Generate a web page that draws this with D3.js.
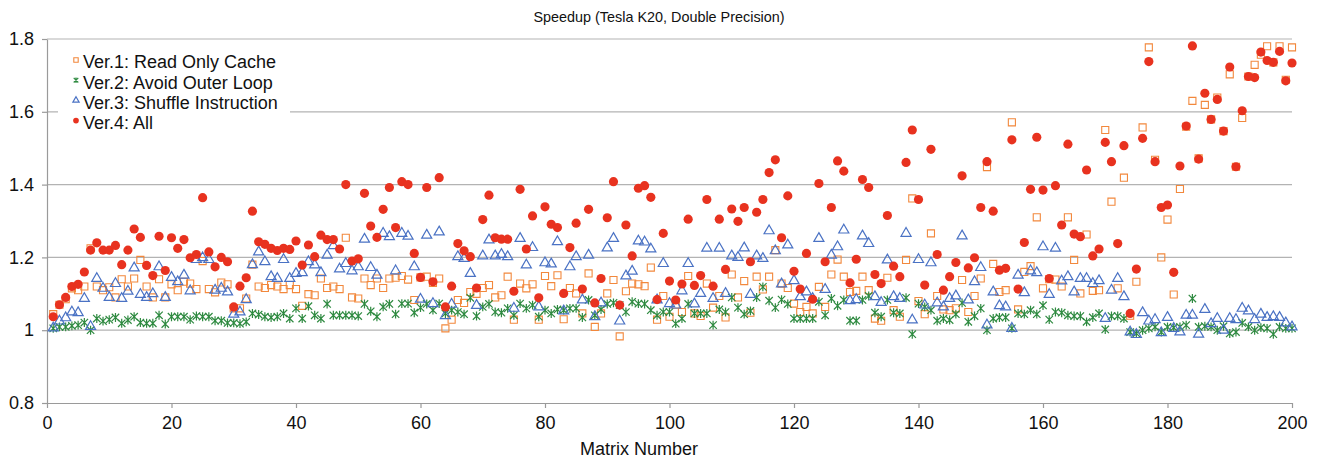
<!DOCTYPE html>
<html>
<head>
<meta charset="utf-8">
<script src="https://cdn.jsdelivr.net/npm/d3@7"></script>
<style>
	body { margin: 0; background: #fff; }
	text { font-family: "Liberation Sans", Arial, Helvetica, sans-serif; fill: #111; }
</style>
</head>
<body>
<div id="viz"></div>
<script>

//data, matrices 1..200
let ver1 = [1.044,1.07,1.085,1.115,1.11,1.12,1.225,1.12,1.11,1.118,1.09,1.14,1.12,1.142,1.193,1.12,1.09,1.14,1.09,1.126,
	1.11,1.133,1.128,1.113,1.19,1.113,1.104,1.131,1.126,1.06,1.06,1.087,1.18,1.12,1.116,1.124,1.12,1.113,1.124,1.113,
	1.067,1.099,1.096,1.142,1.116,1.12,1.113,1.254,1.09,1.087,1.142,1.124,1.142,1.116,1.142,1.144,1.149,1.139,1.083,1.145,
	1.147,1.13,1.142,1.005,1.029,1.083,1.075,1.105,1.10,1.116,1.124,1.09,1.096,1.147,1.029,1.128,1.115,1.126,1.029,1.149,
	1.121,1.151,1.03,1.116,1.101,1.046,1.156,1.009,1.046,1.101,1.138,0.983,1.107,1.128,1.126,1.121,1.172,1.029,1.094,1.037,
	1.07,1.05,1.149,1.046,1.039,1.128,1.062,1.094,1.035,1.153,1.09,1.135,1.048,1.147,1.112,1.147,1.22,1.128,1.116,1.073,
	1.05,1.064,1.046,1.119,1.064,1.153,1.194,1.147,1.105,1.108,1.147,1.11,1.032,1.026,1.144,1.055,1.037,1.193,1.362,1.08,
	1.044,1.266,1.094,1.057,1.055,1.06,1.138,1.05,1.094,1.142,1.448,1.182,1.105,1.11,1.571,1.057,1.16,1.176,1.31,1.115,
	1.14,1.139,1.12,1.31,1.193,1.101,1.263,1.108,1.11,1.55,1.353,1.115,1.419,1.04,1.133,1.557,1.777,1.468,1.2,1.304,
	1.098,1.388,1.559,1.63,1.472,1.619,1.579,1.639,1.547,1.703,1.449,1.583,1.697,1.729,1.757,1.78,1.736,1.78,1.688,1.777]

let ver2 = [1.005,1.009,1.009,1.012,1.014,1.021,1.0,1.032,1.025,1.029,1.035,1.019,1.028,1.037,1.021,1.019,1.019,1.041,1.017,1.037,
	1.037,1.037,1.029,1.039,1.037,1.037,1.026,1.026,1.02,1.02,1.018,1.023,1.046,1.043,1.037,1.035,1.037,1.046,1.032,1.06,
	1.032,1.066,1.041,1.032,1.072,1.041,1.041,1.041,1.041,1.039,1.072,1.052,1.037,1.064,1.072,1.044,1.073,1.073,1.048,1.062,
	1.072,1.055,1.073,1.046,1.055,1.05,1.044,1.089,1.039,1.064,1.072,1.05,1.048,1.06,1.041,1.073,1.06,1.069,1.037,1.055,
	1.046,1.057,1.055,1.06,1.06,1.035,1.083,1.041,1.057,1.072,1.075,1.069,1.05,1.078,1.073,1.072,1.055,1.041,1.05,1.05,
	1.018,1.032,1.072,1.046,1.046,1.046,1.014,1.057,1.05,1.09,1.062,1.044,1.053,1.09,1.119,1.081,1.062,1.084,1.072,1.032,
	1.032,1.032,1.032,1.078,1.041,1.087,1.067,1.083,1.026,1.026,1.083,1.094,1.048,1.037,1.083,1.048,1.046,1.089,0.989,1.073,
	1.064,1.055,1.026,1.032,1.028,1.044,1.075,1.023,1.039,1.06,1.0,1.032,1.035,1.035,1.005,1.046,1.044,1.055,1.044,1.068,
	1.029,1.05,1.048,1.041,1.039,1.039,1.023,1.035,1.046,1.002,1.039,1.039,1.032,0.995,0.991,1.0,1.005,1.009,0.995,1.009,
	1.007,1.009,1.014,1.087,1.009,1.011,1.009,1.0,1.011,0.991,0.995,1.02,1.009,1.0,1.007,1.005,0.989,1.009,1.005,1.005]

let ver3 = [1.006,1.025,1.034,1.05,1.048,1.087,1.01,1.142,1.115,1.09,1.128,1.087,1.107,1.171,1.098,1.09,1.10,1.174,1.09,1.145,
	1.133,1.151,1.108,1.194,1.199,1.194,1.11,1.115,1.105,1.044,1.05,1.084,1.18,1.215,1.188,1.147,1.142,1.194,1.142,1.156,
	1.158,1.188,1.179,1.158,1.206,1.232,1.168,1.183,1.163,1.174,1.25,1.172,1.151,1.266,1.257,1.163,1.266,1.258,1.174,1.085,
	1.261,1.073,1.27,1.04,1.071,1.202,1.197,1.156,1.068,1.204,1.248,1.204,1.208,1.202,1.06,1.252,1.179,1.227,1.064,1.185,
	1.182,1.243,1.053,1.174,1.202,1.083,1.206,1.037,1.075,1.226,1.252,1.025,1.149,1.162,1.245,1.242,1.223,1.083,1.183,1.073,
	1.069,1.108,1.183,1.072,1.101,1.225,1.087,1.225,1.101,1.204,1.20,1.226,1.098,1.204,1.197,1.273,1.218,1.127,1.234,1.136,
	1.092,1.105,1.087,1.252,1.112,1.206,1.229,1.275,1.081,1.084,1.259,1.238,1.092,1.076,1.193,1.092,1.087,1.266,1.028,1.194,
	1.069,1.185,1.075,1.064,1.087,1.094,1.259,1.083,1.133,1.172,1.014,1.105,1.067,1.064,1.005,1.151,1.103,1.163,1.158,1.229,
	1.098,1.225,1.135,1.147,1.105,1.142,1.142,1.128,1.136,1.032,1.11,1.142,1.092,0.995,0.988,1.048,1.025,1.029,0.993,1.035,
	1.005,0.995,1.041,1.041,0.989,1.057,1.018,1.032,1.0,1.032,1.029,1.06,1.053,1.029,1.044,1.035,1.037,1.035,1.02,1.009]

let ver4 = [1.037,1.07,1.09,1.12,1.126,1.16,1.22,1.24,1.22,1.22,1.233,1.18,1.22,1.278,1.255,1.178,1.15,1.258,1.164,1.254,
	1.225,1.249,1.199,1.208,1.364,1.215,1.174,1.20,1.188,1.064,1.121,1.144,1.327,1.243,1.236,1.225,1.219,1.225,1.222,1.245,
	1.179,1.234,1.202,1.261,1.249,1.249,1.223,1.40,1.19,1.196,1.376,1.286,1.255,1.332,1.392,1.282,1.408,1.40,1.211,1.145,
	1.392,1.133,1.419,1.064,1.121,1.238,1.218,1.202,1.116,1.304,1.371,1.254,1.25,1.25,1.107,1.387,1.223,1.314,1.089,1.339,
	1.291,1.282,1.101,1.227,1.294,1.113,1.332,1.075,1.142,1.309,1.408,1.069,1.289,1.204,1.39,1.397,1.365,1.084,1.266,1.135,
	1.083,1.127,1.305,1.123,1.15,1.359,1.121,1.305,1.167,1.333,1.299,1.337,1.188,1.324,1.359,1.433,1.468,1.254,1.369,1.162,
	1.113,1.211,1.085,1.403,1.188,1.337,1.465,1.437,1.13,1.195,1.414,1.392,1.153,1.128,1.315,1.176,1.147,1.461,1.55,1.359,
	1.124,1.497,1.208,1.11,1.147,1.186,1.424,1.171,1.199,1.337,1.463,1.327,1.165,1.17,1.523,1.113,1.241,1.387,1.53,1.385,
	1.142,1.397,1.289,1.511,1.264,1.257,1.44,1.204,1.223,1.516,1.463,1.238,1.507,1.046,1.168,1.527,1.738,1.463,1.337,1.344,
	1.159,1.451,1.561,1.781,1.47,1.651,1.579,1.634,1.547,1.723,1.449,1.603,1.697,1.694,1.764,1.741,1.736,1.766,1.685,1.734]

let seriesNames = ['Ver.1: Read Only Cache', 'Ver.2: Avoid Outer Loop', 'Ver.3: Shuffle Instruction', 'Ver.4: All']
let xTicks = [0, 20, 40, 60, 80, 100, 120, 140, 160, 180, 200]
let yTicks = [0.8, 1, 1.2, 1.4, 1.6, 1.8]

let width = 1317
let height = 459
let margin = {left: 47, right: 25, top: 39, bottom: 56}

let svg = d3.select('#viz')
			.append('svg')
			.attr('width', width)
			.attr('height', height)

let x = d3.scaleLinear()
			.domain([0, 200])
			.range([margin.left, width - margin.right])

let y = d3.scaleLinear()
			.domain([0.8, 1.8])
			.range([height - margin.bottom, margin.top])

//gridlines
svg.append('g')
	.selectAll('line')
	.data(yTicks.slice(1))
	.enter()
	.append('line')
	.attr('x1', x(0))
	.attr('x2', x(200))
	.attr('y1', d => y(d))
	.attr('y2', d => y(d))
	.attr('stroke', '#b3b3b3')
	.attr('stroke-width', 1.2)

//axes
let xAxis = svg.append('g')
				.attr('transform', `translate(0, ${y(0.8)})`)
				.call(d3.axisBottom(x).tickValues(xTicks).tickSize(5).tickPadding(8).tickSizeOuter(0))

let yAxis = svg.append('g')
				.attr('transform', `translate(${x(0)}, 0)`)
				.call(d3.axisLeft(y).tickValues(yTicks).tickSize(5).tickPadding(8).tickSizeOuter(0)
						.tickFormat(d => String(+d.toFixed(1))))

svg.selectAll('.domain, .tick line').attr('stroke', '#9a9a9a').attr('stroke-width', 1.2)
svg.selectAll('.tick text').style('font-size', '18px').attr('fill', '#111')

//markers
let colors = ['#f2883c', '#2e8a40', '#4a72c4', '#e8321f']

function starPath(s) {
	return `M${-s},${-s}L${s},${s}M${-s},${s}L${s},${-s}M0,${-s * 1.2}L0,${s * 1.2}`
}

let markers = [
	(g, s) => g.append('path').attr('d', d3.symbol(d3.symbolSquare, s * s * 50)()).attr('fill', 'none').attr('stroke', colors[0]).attr('stroke-width', 1.1),
	(g, s) => g.append('path').attr('d', starPath(3.7 * s)).attr('fill', 'none').attr('stroke', colors[1]).attr('stroke-width', 1.2),
	(g, s) => g.append('path').attr('d', d3.symbol(d3.symbolTriangle, s * s * 44)()).attr('fill', 'none').attr('stroke', colors[2]).attr('stroke-width', 1.2),
	(g, s) => g.append('path').attr('d', d3.symbol(d3.symbolCircle, s * s * 66)()).attr('fill', colors[3])
]

let allSeries = [ver1, ver2, ver3, ver4]

allSeries.forEach((vals, k) => {
	let g = svg.append('g')
	g.selectAll('g')
		.data(vals)
		.enter()
		.append('g')
		.attr('transform', (d, i) => `translate(${x(i + 1)}, ${y(d)})`)
		.each(function () { markers[k](d3.select(this), 1) })
})

//legend
let legend = svg.append('g')

legend.append('rect')
	.attr('x', 58)
	.attr('y', 46)
	.attr('width', 232)
	.attr('height', 88)
	.attr('fill', '#fff')

seriesNames.forEach((name, k) => {
	let row = legend.append('g').attr('transform', `translate(0, ${62 + k * 20.2})`)
	markers[k](row.append('g').attr('transform', 'translate(76, -2)'), 0.62)
	row.append('text')
		.attr('x', 83)
		.attr('y', 0)
		.attr('dy', '0.35em')
		.style('font-size', '18px')
		.text(name)
})

//titles
svg.append('text')
	.attr('x', 659)
	.attr('y', 22)
	.attr('text-anchor', 'middle')
	.style('font-size', '14.4px')
	.text('Speedup (Tesla K20, Double Precision)')

svg.append('text')
	.attr('x', 639)
	.attr('y', 455)
	.attr('text-anchor', 'middle')
	.style('font-size', '18px')
	.text('Matrix Number')

</script>
</body>
</html>
